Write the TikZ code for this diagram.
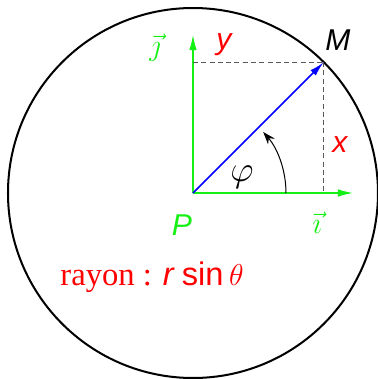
\documentclass[tikz,border=0pt]{standalone}
\usepackage{fontspec}
\setmainfont{Liberation Serif}
\setsansfont{Liberation Sans}
\usepackage{xcolor}
\usepackage{tikz}
\usetikzlibrary{positioning,arrows.meta,calc}
\definecolor{vgreen}{RGB}{20,240,20}

\begin{document}
\begin{tikzpicture}[
    x=1.4cm, y=1.4cm,
    axis/.style={draw=vgreen, line width=0.5pt, -{Latex[length=6pt,width=3pt]}},
    vect/.style={draw=blue, line width=0.7pt, -{Latex[length=6pt,width=3pt]}},
    proj/.style={draw=black!65, dash pattern=on 2pt off 1.3pt, line width=0.5pt},
    lbl/.style={font=\fontsize{12}{14}\selectfont\sffamily\itshape, inner sep=1pt}
]
    \useasboundingbox (-1.93,-1.86) rectangle (1.85,1.93);

    % Points
    \coordinate (P) at (0,0);
    \coordinate (M) at (45:1.85);
    \coordinate (I) at (1.60,0);
    \coordinate (J) at (0,1.58);
    \coordinate (My) at (P |- M);
    \coordinate (Mx) at (P -| M);

    % Sphere cut
    \draw[line width=0.8pt] (P) circle (1.85);

    % Axes and projections
    \draw[axis] (P) -- (I);
    \draw[axis] (P) -- (J);
    \draw[proj] (My) -- (M);
    \draw[proj] (M) -- (Mx);
    \draw[vect] (P) -- (M);
    \draw[line width=0.4pt, -{Stealth[length=5pt,width=3.5pt]}] (0.93,0) arc (0:41:0.93);

    % Labels
    \node[lbl, black] (lM) at (1.45,1.53) {M};
    \node[lbl, red] (lx) at (1.47,0.48) {x};
    \node[lbl, red] (ly) at (0.31,1.48) {y};
    \node[lbl, vgreen] (lP) at (-0.11,-0.32) {P};
    \node[vgreen, font=\fontsize{12}{14}\selectfont] (li) at (1.24,-0.30) {$\vec{\imath}$};
    \node[vgreen, font=\fontsize{12}{14}\selectfont] (lj) at (-0.38,1.45) {$\vec{\jmath}$};
    \node[font=\fontsize{14}{16}\selectfont] (phi) at (0.49,0.16) {$\varphi$};
    \node[red, font=\fontsize{13}{15}\selectfont] (rayon) at (-0.41,-0.84)
        {rayon : {\sffamily\itshape r} {\sffamily sin}\,$\theta$};
\end{tikzpicture}
\end{document}
